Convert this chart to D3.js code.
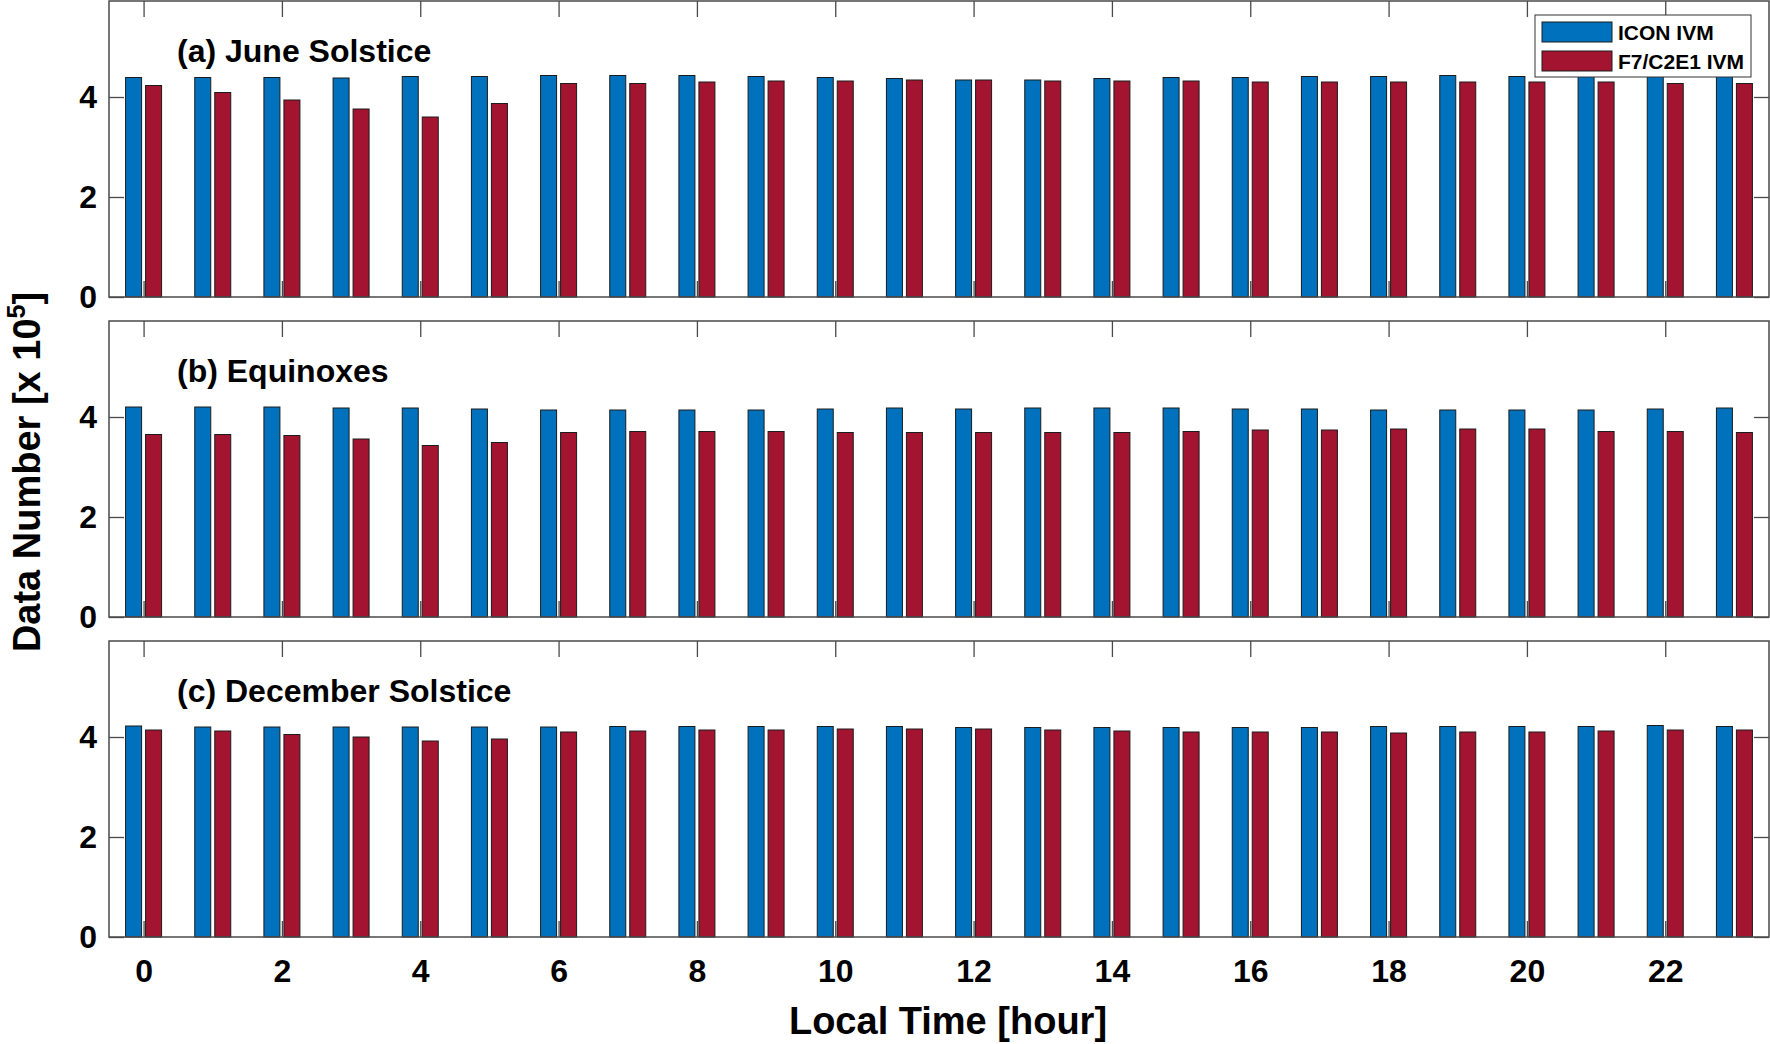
<!doctype html>
<html>
<head>
<meta charset="UTF-8">
<title>Data Number by Local Time</title>
<script src="https://cdn.jsdelivr.net/npm/d3@7/dist/d3.min.js"></script>
<style>
body { margin: 0; background: #fff; }
text { font-family: "Liberation Sans", Arial, Helvetica, sans-serif; font-weight: bold; fill: #000; }
</style>
</head>
<body>
<script>
// local time bins (hour)
var hours = [0, 1, 2, 3, 4, 5, 6, 7, 8, 9, 10, 11, 12, 13, 14, 15, 16, 17, 18, 19, 20, 21, 22, 23];
var seriesNames = ["ICON IVM", "F7/C2E1 IVM"];
var panelTitles = ["(a) June Solstice", "(b) Equinoxes", "(c) December Solstice"];

// data number, x 10^5
var juneIcon = [4.39, 4.39, 4.39, 4.38, 4.41, 4.41, 4.43, 4.43, 4.43, 4.41, 4.39, 4.37,
                4.34, 4.34, 4.37, 4.39, 4.39, 4.41, 4.41, 4.43, 4.41, 4.42, 4.43, 4.42];
var juneF7   = [4.23, 4.09, 3.94, 3.76, 3.60, 3.87, 4.27, 4.27, 4.30, 4.32, 4.32, 4.34,
                4.34, 4.32, 4.32, 4.32, 4.30, 4.30, 4.30, 4.30, 4.30, 4.30, 4.27, 4.27];
var equiIcon = [4.20, 4.20, 4.20, 4.18, 4.18, 4.16, 4.14, 4.14, 4.14, 4.14, 4.16, 4.18,
                4.16, 4.18, 4.18, 4.18, 4.16, 4.16, 4.14, 4.14, 4.14, 4.14, 4.16, 4.18];
var equiF7   = [3.65, 3.65, 3.63, 3.56, 3.43, 3.49, 3.69, 3.71, 3.71, 3.71, 3.69, 3.69,
                3.69, 3.69, 3.69, 3.71, 3.74, 3.74, 3.76, 3.76, 3.76, 3.71, 3.71, 3.69];
var decIcon  = [4.22, 4.20, 4.20, 4.20, 4.20, 4.20, 4.20, 4.21, 4.21, 4.21, 4.21, 4.21,
                4.19, 4.19, 4.19, 4.19, 4.19, 4.19, 4.21, 4.21, 4.21, 4.21, 4.23, 4.21];
var decF7    = [4.14, 4.12, 4.05, 4.00, 3.92, 3.96, 4.10, 4.12, 4.14, 4.14, 4.16, 4.16,
                4.16, 4.14, 4.12, 4.10, 4.10, 4.10, 4.08, 4.10, 4.10, 4.12, 4.14, 4.14];

var xTicks = [0, 2, 4, 6, 8, 10, 12, 14, 16, 18, 20, 22];
var yTicks = [0, 2, 4];

var panels = [
  { title: panelTitles[0], values: [juneIcon, juneF7] },
  { title: panelTitles[1], values: [equiIcon, equiF7] },
  { title: panelTitles[2], values: [decIcon, decF7] }
];

var w = 1770, h = 1044;
var left = 109, right = 1769;
var panelTop = [1, 321, 641];
var panelH = 296;
var colors = ["#0072BD", "#A2142F"];
var axisColor = "#4a4a4a";

var svg = d3.select("body").append("svg")
  .attr("width", w)
  .attr("height", h);

var xScale = d3.scaleLinear().domain([-0.5, 23.5]).range([left, right]);
var yScale = d3.scaleLinear().domain([0, 5.92]).range([panelH, 0]);
// two bars per hour, small gap in the middle
var subScale = d3.scaleBand().domain(seriesNames).range([-18, 18]).paddingInner(0.2);

panels.forEach(function(p, pi) {
  var g = svg.append("g").attr("transform", "translate(0," + panelTop[pi] + ")");

  // tick marks first, bars cover them
  var last = pi === panels.length - 1;
  g.append("g")
    .attr("transform", "translate(0," + panelH + ")")
    .call(d3.axisBottom(xScale).tickValues(xTicks).tickSize(-16).tickPadding(22)
      .tickFormat(last ? d3.format("d") : function() { return ""; }));
  g.append("g")
    .call(d3.axisTop(xScale).tickValues(xTicks).tickSize(-16).tickFormat(""));
  g.append("g")
    .attr("transform", "translate(" + left + ",0)")
    .call(d3.axisLeft(yScale).tickValues(yTicks).tickSize(-15).tickPadding(12).tickFormat(d3.format("d")));
  g.append("g")
    .attr("transform", "translate(" + right + ",0)")
    .call(d3.axisRight(yScale).tickValues(yTicks).tickSize(-15).tickFormat(""));

  g.selectAll(".domain").remove();
  g.selectAll(".tick line").attr("stroke", axisColor).attr("stroke-width", 1.3);
  g.selectAll(".tick text")
    .attr("font-family", "'Liberation Sans', Arial, sans-serif")
    .attr("font-weight", "bold")
    .attr("font-size", "32px")
    .attr("fill", "#000");

  // bars
  var groups = g.selectAll("g.hour")
    .data(hours)
    .enter()
    .append("g")
    .attr("class", "hour")
    .attr("transform", function(d) { return "translate(" + xScale(d) + ",0)"; });

  groups.selectAll("rect")
    .data(function(d, i) {
      return seriesNames.map(function(s, si) { return { key: s, value: p.values[si][i], c: colors[si] }; });
    })
    .enter()
    .append("rect")
    .attr("x", function(d) { return subScale(d.key); })
    .attr("y", function(d) { return yScale(d.value); })
    .attr("width", subScale.bandwidth())
    .attr("height", function(d) { return panelH - yScale(d.value); })
    .attr("fill", function(d) { return d.c; })
    .attr("stroke", "#1c1c1c")
    .attr("stroke-width", 1);

  // box
  g.append("rect")
    .attr("x", left)
    .attr("y", 0)
    .attr("width", right - left)
    .attr("height", panelH)
    .attr("fill", "none")
    .attr("stroke", axisColor)
    .attr("stroke-width", 1.5);

  g.append("text")
    .attr("x", 177)
    .attr("y", 61)
    .attr("font-size", "32px")
    .text(p.title);

  if (pi === 0) {
    var lg = g.append("g").attr("transform", "translate(1535,14)");
    lg.append("rect")
      .attr("width", 216)
      .attr("height", 62)
      .attr("fill", "#fff")
      .attr("stroke", "#333")
      .attr("stroke-width", 1);
    seriesNames.forEach(function(s, si) {
      lg.append("rect")
        .attr("x", 7)
        .attr("y", 7 + si * 29)
        .attr("width", 70)
        .attr("height", 20)
        .attr("fill", colors[si])
        .attr("stroke", "#1c1c1c")
        .attr("stroke-width", 1);
      lg.append("text")
        .attr("x", 83)
        .attr("y", 25 + si * 29)
        .attr("font-size", "21px")
        .text(s);
    });
  }
});

// axis titles
svg.append("text")
  .attr("x", 948)
  .attr("y", 1034)
  .attr("text-anchor", "middle")
  .attr("font-size", "38px")
  .text("Local Time [hour]");

var yl = svg.append("text")
  .attr("transform", "translate(40,472) rotate(-90)")
  .attr("text-anchor", "middle")
  .attr("font-size", "38px");
yl.append("tspan").text("Data Number [x 10");
yl.append("tspan").attr("font-size", "25px").attr("dy", "-15").text("5");
yl.append("tspan").attr("dy", "15").text("]");
</script>
</body>
</html>
